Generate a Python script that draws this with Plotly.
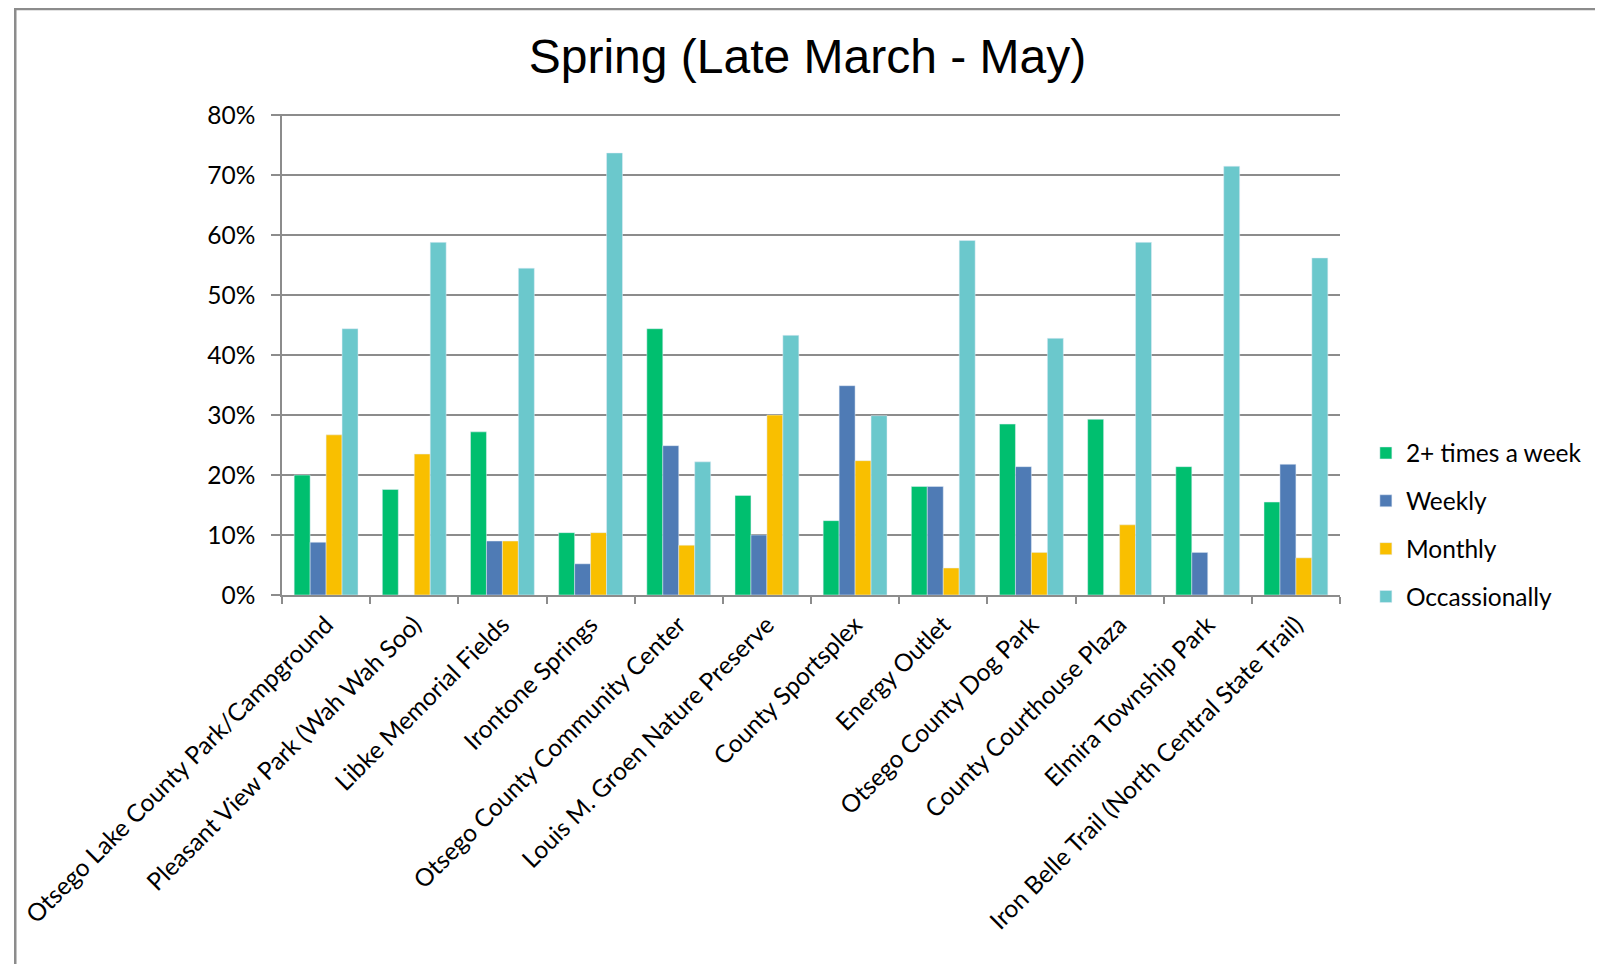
import plotly.graph_objects as go

# %% data (percent of respondents)
places = [
    "Otsego Lake County Park/Campground",
    "Pleasant View Park (Wah Wah Soo)",
    "Libke Memorial Fields",
    "Irontone Springs",
    "Otsego County Community Center",
    "Louis M. Groen Nature Preserve",
    "County Sportsplex",
    "Energy Outlet",
    "Otsego County Dog Park",
    "County Courthouse Plaza",
    "Elmira Township Park",
    "Iron Belle Trail (North Central State Trail)",
]
twice_weekly = [20.0, 17.6, 27.2, 10.4, 44.4, 16.6, 12.4, 18.1, 28.5, 29.3, 21.4, 15.5]
weekly = [8.8, 0, 9.0, 5.2, 24.9, 10.0, 34.9, 18.1, 21.4, 0, 7.1, 21.8]
monthly = [26.7, 23.5, 9.0, 10.4, 8.3, 30.0, 22.4, 4.5, 7.1, 11.7, 0, 6.2]
occasionally = [44.4, 58.8, 54.5, 73.7, 22.2, 43.3, 29.9, 59.1, 42.8, 58.8, 71.5, 56.2]

series = [
    ("2+ times a week", twice_weekly, "#00BF6F"),
    ("Weekly", weekly, "#4F7BB5"),
    ("Monthly", monthly, "#F9BF00"),
    ("Occassionally", occasionally, "#6BC8CC"),
]

# %% figure
fig = go.Figure()
for i, (name, vals, col) in enumerate(series):
    fig.add_trace(go.Bar(x=places, y=vals, name=name, marker_color=col,
                         legendgroup=str(i)))

# page has an 8px body margin, so figure coords = page coords - 8
W, H = 1595, 956
L, T = 269, 106
R = W - 1332
B = H - 587
pw, ph = W - L - R, H - T - B

grid = "#8c8c8c"
fig.update_layout(
    width=W, height=H,
    margin=dict(l=L, r=R, t=T, b=B),
    paper_bgcolor="white", plot_bgcolor="white",
    barmode="group", bargap=0.276, bargroupgap=0,
    font=dict(family="Lato", size=24.5, color="black"),
    title=dict(text="Spring (Late March - May)", x=(797 - L) / pw, xref="paper",
               xanchor="center", y=1 - 48 / H, yanchor="middle",
               font=dict(family="Liberation Sans", size=48, color="black")),
    legend=dict(x=(1358 - L) / pw, xanchor="left", y=(587 - 517) / ph, yanchor="middle",
                tracegroupgap=13, itemwidth=30, font=dict(size=24.5),
                bgcolor="rgba(0,0,0,0)"),
    showlegend=True,
)
fig.update_yaxes(range=[0, 80.2], dtick=10, ticksuffix="%", showgrid=True,
                 gridcolor=grid, gridwidth=1.5, showline=True, linecolor=grid,
                 linewidth=1.5, ticks="outside", ticklen=9, tickcolor=grid,
                 tickwidth=1.5, zeroline=False, ticklabelstandoff=11)
fig.update_xaxes(tickangle=-45, showline=True, linecolor=grid, linewidth=1.5,
                 ticks="outside", ticklen=7, tickcolor=grid, tickwidth=1.5,
                 tickson="boundaries", showgrid=False, ticklabelstandoff=4)

# outer chart border
fig.add_shape(type="rect", xref="paper", yref="paper",
              x0=(1 - L) / pw, x1=(W + 5 - L) / pw,
              y0=(T + ph - (H + 5)) / ph, y1=(T + ph - 1) / ph,
              line=dict(color="#8c8c8c", width=2.5), fillcolor="rgba(0,0,0,0)",
              layer="below")

fig.write_html("out.html")
